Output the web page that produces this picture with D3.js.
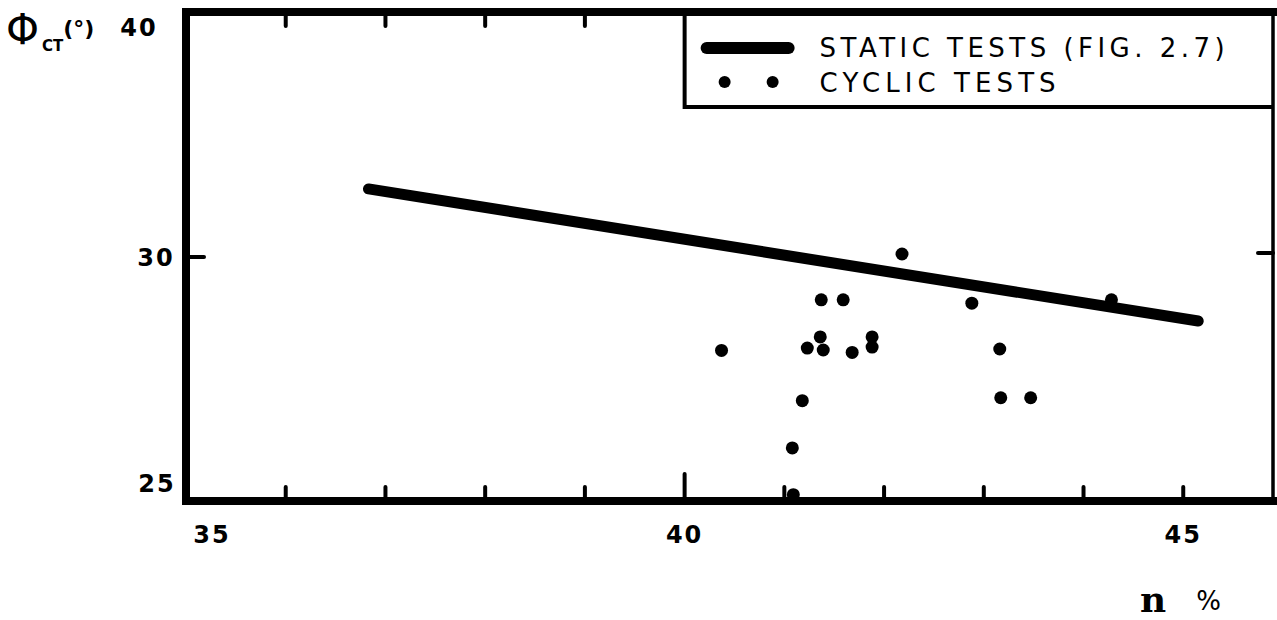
<!DOCTYPE html>
<html>
<head>
<meta charset="utf-8">
<script src="https://cdn.jsdelivr.net/npm/d3@7"></script>
<style>
  html, body { margin: 0; padding: 0; background: #fff; }
  svg { display: block; }
  text { font-family: "DejaVu Sans", "Liberation Sans", sans-serif; fill: #000; }
</style>
</head>
<body>
<svg id="chart" width="1277" height="620"></svg>
<script>
// ---- data ----
const cyclicN   = [42.18, 41.37, 41.59, 42.88, 44.28, 41.36, 41.88, 41.88, 40.37, 41.23, 41.39, 41.68, 43.16, 41.18, 43.17, 43.47, 41.08, 41.09];
const cyclicPhi = [30.0,  29.05, 29.05, 28.98, 29.05, 28.28, 28.28, 28.07, 28.0,  28.05, 28.01, 27.96, 28.03, 26.96, 27.02, 27.02, 25.98, 25.01];
const staticN   = [36.83, 45.15];
const staticPhi = [32.69, 28.61];
const xTickValues  = [36, 37, 38, 39, 40, 41, 42, 43, 44, 45];
const xLabelValues = [35, 40, 45];
const yTickValues  = [30];
const yLabelValues = [25, 30, 40];
const legendLabels = ["STATIC TESTS (FIG. 2.7)", "CYCLIC TESTS"];

// ---- scales ----
const x = d3.scaleLinear().domain([35, 45.9]).range([186, 1273]);
// the original axis is not uniform: 25-30 occupies as much height as 30-40
const y = d3.scaleLinear().domain([24.9, 30, 40]).range([500, 254, 12]);

const svg = d3.select("#chart");
const X0 = x(35), X1 = x(45.9), Y0 = y(24.9), Y1 = y(40);

// ---- ticks (inward, rounded) ----
const tickG = svg.append("g").attr("stroke", "#000").attr("stroke-linecap", "round").attr("stroke-width", 4);
tickG.selectAll(".bt").data(xTickValues).join("line")
  .attr("x1", d => x(d)).attr("x2", d => x(d))
  .attr("y1", Y0).attr("y2", d => Y0 - (d === 40 ? 26 : 13));
tickG.selectAll(".tt").data(xTickValues.filter(d => d < 40)).join("line")
  .attr("x1", d => x(d)).attr("x2", d => x(d))
  .attr("y1", Y1).attr("y2", Y1 + 14);
tickG.selectAll(".lt").data(yTickValues).join("line")
  .attr("x1", X0).attr("x2", X0 + 18)
  .attr("y1", d => y(d) + 3).attr("y2", d => y(d) + 3);
tickG.selectAll(".rt").data(yTickValues).join("line")
  .attr("x1", X1).attr("x2", X1 - 15)
  .attr("y1", d => y(d) - 1).attr("y2", d => y(d) - 1);

// ---- static tests line ----
const line = d3.line().x(d => x(d[0])).y(d => y(d[1]));
svg.append("path")
  .datum(staticN.map((n, i) => [n, staticPhi[i]]))
  .attr("d", line)
  .attr("fill", "none").attr("stroke", "#000")
  .attr("stroke-width", 11).attr("stroke-linecap", "round");

// ---- cyclic tests points ----
svg.append("g").selectAll("circle")
  .data(cyclicN.map((n, i) => [n, cyclicPhi[i]]))
  .join("circle")
  .attr("cx", d => x(d[0])).attr("cy", d => y(d[1]))
  .attr("r", 6.5).attr("fill", "#000");

// ---- frame ----
const frame = svg.append("g").attr("stroke", "#000").attr("fill", "none").attr("stroke-linecap", "square");
frame.append("line").attr("x1", X0).attr("x2", X0).attr("y1", Y1).attr("y2", Y0 + 1).attr("stroke-width", 8);
frame.append("line").attr("x1", X0).attr("x2", X1).attr("y1", Y1).attr("y2", Y1).attr("stroke-width", 8);
frame.append("line").attr("x1", X0).attr("x2", X1).attr("y1", Y0 + 1).attr("y2", Y0 + 1).attr("stroke-width", 8);
frame.append("line").attr("x1", X1).attr("x2", X1).attr("y1", Y1).attr("y2", Y0 + 1).attr("stroke-width", 3.5);

// ---- legend ----
const lgX = x(40), lgY = Y1, lgB = 107;
svg.append("rect").attr("x", lgX).attr("y", lgY + 4).attr("width", X1 - lgX - 2).attr("height", lgB - lgY - 4).attr("fill", "#fff");
svg.append("line").attr("x1", lgX).attr("x2", lgX).attr("y1", lgY).attr("y2", lgB + 2).attr("stroke", "#000").attr("stroke-width", 4);
svg.append("line").attr("x1", lgX).attr("x2", X1).attr("y1", lgB).attr("y2", lgB).attr("stroke", "#000").attr("stroke-width", 4);
svg.append("line").attr("x1", lgX + 22).attr("x2", lgX + 104).attr("y1", 48).attr("y2", 48)
  .attr("stroke", "#000").attr("stroke-width", 12).attr("stroke-linecap", "round");
svg.append("g").selectAll("circle").data([0, 1]).join("circle")
  .attr("cx", d => lgX + 40 + d * 48).attr("cy", 82).attr("r", 6).attr("fill", "#000");
svg.append("text").attr("x", lgX + 135).attr("y", 57).attr("font-size", 26)
  .attr("textLength", 405).attr("lengthAdjust", "spacing").text(legendLabels[0]);
svg.append("text").attr("x", lgX + 135).attr("y", 92).attr("font-size", 26)
  .attr("textLength", 236).attr("lengthAdjust", "spacing").text(legendLabels[1]);

// ---- axis labels ----
const xLabelShift = {35: 26, 40: 0, 45: 0};
svg.append("g").selectAll("text").data(xLabelValues).join("text")
  .attr("x", d => x(d) + xLabelShift[d]).attr("y", 543)
  .attr("text-anchor", "middle").attr("font-size", 24).attr("font-weight", "bold")
  .attr("letter-spacing", 2)
  .text(d => d);
const yLabelPos = {40: 36, 30: 266, 25: 492};
const yLabelX = {40: 139, 30: 156, 25: 157};
svg.append("g").selectAll("text").data(yLabelValues).join("text")
  .attr("x", d => yLabelX[d]).attr("y", d => yLabelPos[d])
  .attr("text-anchor", "middle").attr("font-size", 24).attr("font-weight", "bold")
  .attr("letter-spacing", 2)
  .text(d => d);

// ---- axis titles ----
const yt = svg.append("text").attr("x", 6).attr("y", 44);
yt.append("tspan").attr("font-size", 42).attr("font-family", "Liberation Sans Narrow, DejaVu Sans").text("Φ");
yt.append("tspan").attr("font-size", 15).attr("font-weight", "bold").attr("dx", 3).attr("dy", 7).text("CT");
yt.append("tspan").attr("font-size", 22).attr("font-weight", "bold").attr("dy", -15).text("(°)");

const xt = svg.append("text").attr("x", 1140).attr("y", 612);
xt.append("tspan").attr("font-family", "DejaVu Serif").attr("font-size", 36).attr("font-weight", "bold").text("n");
xt.append("tspan").attr("font-size", 26).attr("dx", 30).attr("dy", -2).text("%");
</script>
</body>
</html>
